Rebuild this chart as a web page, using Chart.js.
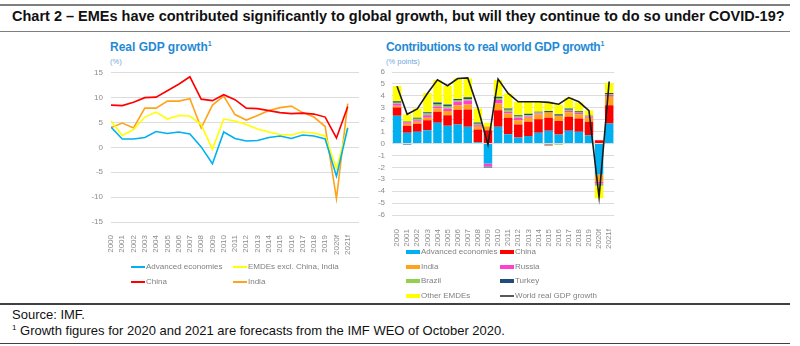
<!DOCTYPE html>
<html lang="en">
<head>
<meta charset="UTF-8">
<title>Chart 2</title>
<script src="https://cdn.jsdelivr.net/npm/chart.js"></script>
<style>
  body { margin: 0; width: 800px; height: 346px; background: #fff; position: relative; overflow: hidden;
         font-family: "Liberation Sans", Arial, sans-serif; }
  .abs { position: absolute; white-space: nowrap; }
  .rule { position: absolute; left: 0; width: 790px; }
  .ctitle { font-weight: bold; font-size: 12px; color: #1f8ad6; }
  .ctitle sup { font-size: 7px; }
  .unit { font-size: 7.5px; color: #6fa8dc; }
  .leg { font-size: 8px; color: #808080; line-height: 10px; }
  .sw { position: absolute; }
  canvas { position: absolute; }
</style>
</head>
<body>
<div class="rule" style="top:4px;height:2px;background:#7f7f7f"></div>
<div class="abs" style="left:12px;top:8px;font-size:14.5px;font-weight:bold;color:#111">Chart 2 – EMEs have contributed significantly to global growth, but will they continue to do so under COVID-19?</div>
<div class="rule" style="top:31px;height:1px;background:#7f7f7f"></div>

<div class="abs ctitle" style="left:110px;top:40px">Real GDP growth<sup>1</sup></div>
<div class="abs unit" style="left:110px;top:57px">(%)</div>
<div class="abs ctitle" style="left:386px;top:40px;letter-spacing:-0.3px">Contributions to real world GDP growth<sup>1</sup></div>
<div class="abs unit" style="left:386px;top:57px">(% points)</div>

<canvas id="left" width="290" height="195" style="left:80px;top:60px"></canvas>
<canvas id="right" width="255" height="195" style="left:370px;top:60px"></canvas>
<div id="legends"></div>

<div class="rule" style="top:303px;height:2px;background:#404040"></div>
<div class="abs" style="left:12px;top:307px;font-size:13px;color:#111">Source: IMF.</div>
<div class="abs" style="left:12px;top:323px;font-size:13px;color:#111"><sup style="font-size:8px">1</sup> Growth figures for 2020 and 2021 are forecasts from the IMF WEO of October 2020.</div>
<div class="rule" style="top:343px;height:1px;background:#404040"></div>

<script>
const years = ['2000','2001','2002','2003','2004','2005','2006','2007','2008','2009','2010',
  '2011','2012','2013','2014','2015','2016','2017','2018','2019','2020f','2021f'];

// Real GDP growth (%)
const advancedGrowth = [4.1,1.7,1.7,2.0,3.2,2.8,3.1,2.7,0.1,-3.3,3.1,1.8,1.3,1.4,2.0,2.3,1.8,2.5,2.3,1.7,-5.8,3.9];
const emdesExclGrowth = [5.3,2.4,3.6,6.1,7.1,5.7,6.4,6.3,4.6,-0.4,5.7,5.3,4.6,3.7,3.1,2.6,2.5,3.1,2.9,2.3,-4.3,4.1];
const chinaGrowth = [8.5,8.4,9.1,10.0,10.1,11.4,12.7,14.2,9.7,9.4,10.6,9.6,7.9,7.8,7.4,7.0,6.8,6.9,6.7,6.1,1.9,8.2];
const indiaGrowth = [4.0,4.9,3.9,7.9,7.9,9.3,9.3,9.8,3.9,8.5,10.3,6.6,5.5,6.4,7.4,8.0,8.3,7.0,6.1,4.2,-10.3,8.8];

// Contributions to real world GDP growth (% points)
const aeContrib =     [2.32,0.90,0.98,1.12,1.74,1.48,1.60,1.40,0.11,-1.68,1.40,0.78,0.50,0.62,0.90,1.06,0.76,1.06,0.98,0.70,-2.60,1.68];
const chinaContrib =  [0.71,0.58,0.67,0.84,0.92,0.90,1.23,1.46,1.07,1.12,1.40,1.38,1.10,1.20,1.14,1.10,1.12,1.18,1.12,1.12,0.28,1.54];
const indiaContrib =  [0.14,0.17,0.17,0.20,0.28,0.34,0.39,0.42,0.22,0.30,0.56,0.36,0.36,0.34,0.40,0.44,0.44,0.36,0.34,0.34,-0.60,0.70];
const russiaContrib = [0.16,0.14,0.14,0.22,0.17,0.22,0.28,0.33,0.14,-0.23,0.28,0.14,0.20,0.11,0.08,-0.10,0.00,0.12,0.11,0.11,-0.15,0.14];
const brazilContrib = [0.10,0.10,0.11,0.14,0.17,0.17,0.11,0.12,0.11,-0.01,0.14,0.17,0.11,0.11,0.08,-0.10,-0.10,0.11,0.05,0.03,-0.10,0.09];
const turkeyContrib = [0.12,-0.08,0.09,0.11,0.17,0.17,0.12,0.16,0.11,-0.10,0.14,0.11,0.11,0.11,0.06,0.12,0.14,0.11,0.11,0.02,-0.05,0.08];
const otherContrib =  [1.27,0.55,0.78,1.60,1.87,1.57,1.73,1.57,1.18,0.30,1.40,1.26,1.12,1.01,0.84,0.78,0.82,0.90,0.73,0.45,-1.10,0.85];
const worldGrowth =   [4.8,2.45,2.9,4.2,5.35,4.85,5.45,5.5,3.0,-0.1,5.4,4.2,3.5,3.5,3.5,3.45,3.3,3.85,3.5,2.75,-4.5,5.2];

const leftSeries = [
  { name: 'Advanced economies', data: advancedGrowth, color: '#00b0f0' },
  { name: 'EMDEs excl. China, India', data: emdesExclGrowth, color: '#ffff00' },
  { name: 'China', data: chinaGrowth, color: '#ff0000' },
  { name: 'India', data: indiaGrowth, color: '#ffa31a' }
];
const rightSeries = [
  { name: 'Advanced economies', data: aeContrib, color: '#00b0f0' },
  { name: 'China', data: chinaContrib, color: '#ff0000' },
  { name: 'India', data: indiaContrib, color: '#ffa31a' },
  { name: 'Russia', data: russiaContrib, color: '#ff3fd0' },
  { name: 'Brazil', data: brazilContrib, color: '#92d050' },
  { name: 'Turkey', data: turkeyContrib, color: '#1f4e79' },
  { name: 'Other EMDEs', data: otherContrib, color: '#ffff00' }
];

const tickFont = { family: 'Liberation Sans', size: 8 };
const tickColor = '#8c8c8c';
const gridColor = '#dcdcdc';

// left: line chart
new Chart(document.getElementById('left'), {
  type: 'line',
  data: {
    datasets: leftSeries.map(s => ({
      label: s.name,
      data: s.data.map((v, i) => ({ x: i, y: v })),
      borderColor: s.color,
      backgroundColor: s.color,
      borderWidth: 1.6,
      pointRadius: 0,
      tension: 0
    }))
  },
  options: {
    responsive: false,
    animation: false,
    layout: { padding: { top: 12, right: 11, left: 0, bottom: 0 } },
    plugins: { legend: { display: false }, tooltip: { enabled: false } },
    scales: {
      x: {
        type: 'linear', min: 0, max: 22,
        grid: { display: false }, border: { display: false },
        afterBuildTicks: s => { s.ticks = years.map((_, i) => ({ value: i })); },
        ticks: { autoSkip: false, minRotation: 90, maxRotation: 90, font: tickFont, color: tickColor, padding: 5,
                 callback: v => years[v] },
        afterFit: s => { s.height = 33; }
      },
      y: {
        min: -15, max: 15,
        ticks: { stepSize: 5, autoSkip: false, font: tickFont, color: tickColor, padding: 8 },
        grid: { color: gridColor, drawTicks: false },
        border: { display: false },
        afterFit: s => { s.width = 31; }
      }
    }
  }
});

// right: stacked bars + world line
const barSets = rightSeries.map(s => ({
  type: 'bar',
  label: s.name,
  data: s.data,
  backgroundColor: s.color,
  borderWidth: 0,
  stack: 'contrib',
  order: 1,
  categoryPercentage: 1,
  barPercentage: 0.84
}));
new Chart(document.getElementById('right'), {
  type: 'bar',
  data: {
    labels: years,
    datasets: barSets.concat([{
      type: 'line',
      label: 'World real GDP growth',
      data: worldGrowth,
      borderColor: '#1a1a1a',
      borderWidth: 1.6,
      pointRadius: 0,
      tension: 0,
      stack: 'world',
      order: 0
    }])
  },
  options: {
    responsive: false,
    animation: false,
    layout: { padding: { top: 12, right: 10, left: 0, bottom: 0 } },
    plugins: { legend: { display: false }, tooltip: { enabled: false } },
    scales: {
      x: {
        stacked: true,
        grid: { display: false }, border: { display: false },
        ticks: { autoSkip: false, minRotation: 90, maxRotation: 90, font: tickFont, color: tickColor, padding: 6 },
        afterFit: s => { s.height = 40; }
      },
      y: {
        stacked: true,
        min: -6, max: 6,
        ticks: { stepSize: 1, autoSkip: false, font: tickFont, color: tickColor, padding: 7 },
        grid: { color: gridColor, drawTicks: false },
        border: { display: false },
        afterFit: s => { s.width = 22; }
      }
    }
  }
});

// legends (two columns, like the original)
const legendBox = document.getElementById('legends');
function addItem(name, color, x, y, kind) {
  const sw = document.createElement('div');
  sw.className = 'sw';
  if (kind === 'line') {
    sw.style.cssText = `left:${x}px;top:${y - 1}px;width:14px;height:2px;background:${color}`;
  } else {
    sw.style.cssText = `left:${x}px;top:${y - 2}px;width:14px;height:4px;background:${color}`;
  }
  legendBox.appendChild(sw);
  const t = document.createElement('div');
  t.className = 'abs leg';
  t.style.left = (x + 15) + 'px';
  t.style.top = (y - 5) + 'px';
  t.textContent = name;
  legendBox.appendChild(t);
}
leftSeries.forEach((s, i) => addItem(s.name, s.color, i % 2 ? 233 : 131, 267 + Math.floor(i / 2) * 14.5, 'line'));
rightSeries.forEach((s, i) => addItem(s.name, s.color, i % 2 ? 500 : 406, 252 + Math.floor(i / 2) * 14.5, 'box'));
addItem('World real GDP growth', '#595959', 500, 252 + 3 * 14.5, 'line');
</script>
</body>
</html>
